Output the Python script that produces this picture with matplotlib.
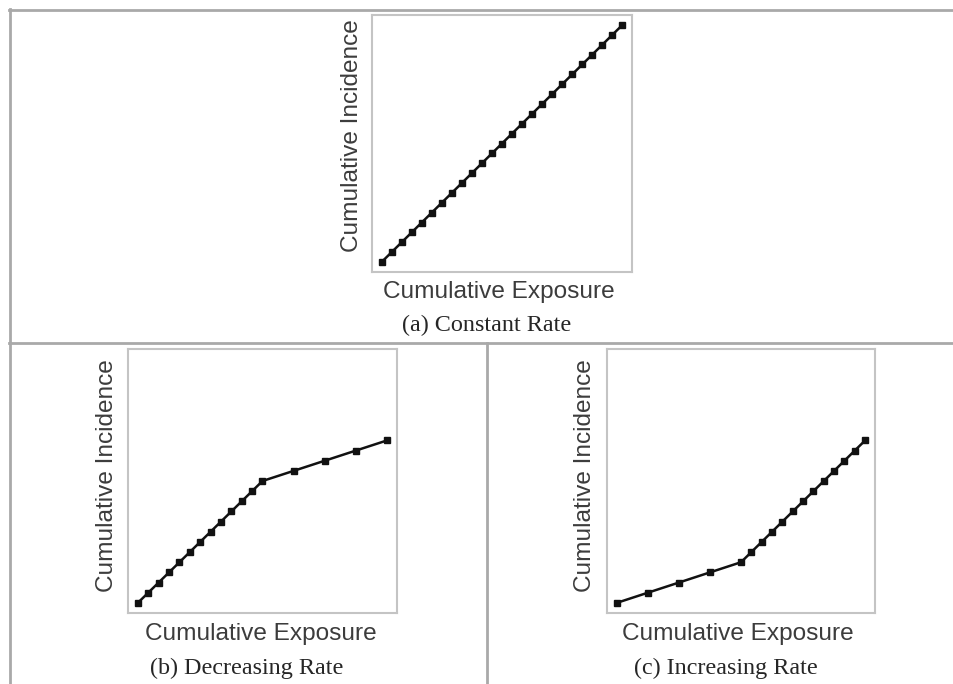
import matplotlib
matplotlib.use("Agg")
import matplotlib.pyplot as plt
from matplotlib.lines import Line2D

W, H = 954, 684

# (a) constant rate: one case per unit of exposure throughout
a_exposure = [0, 1, 2, 3, 4, 5, 6, 7, 8, 9, 10, 11, 12,
              13, 14, 15, 16, 17, 18, 19, 20, 21, 22, 23, 24]
a_incidence = [0, 1, 2, 3, 4, 5, 6, 7, 8, 9, 10, 11, 12,
               13, 14, 15, 16, 17, 18, 19, 20, 21, 22, 23, 24]

# (b) decreasing rate: steep early, then one case per three units
b_exposure = [0, 1, 2, 3, 4, 5, 6, 7, 8, 9, 10, 11, 12, 15, 18, 21, 24]
b_incidence = [0, 1, 2, 3, 4, 5, 6, 7, 8, 9, 10, 11, 12, 13, 14, 15, 16]

# (c) increasing rate: slow early, then one case per unit
c_exposure = [0, 3, 6, 9, 12, 13, 14, 15, 16, 17, 18, 19, 20, 21, 22, 23, 24]
c_incidence = [0, 1, 2, 3, 4, 5, 6, 7, 8, 9, 10, 11, 12, 13, 14, 15, 16]

captions = ["(a) Constant Rate", "(b) Decreasing Rate", "(c) Increasing Rate"]
xlab = "Cumulative Exposure"
ylab = "Cumulative Incidence"

SANS = "Liberation Sans"
SERIF = "Liberation Serif"
TXT = "#3c3c3c"
FRAME = "#c4c4c4"
RULE = "#a9a9a9"


def px_rect(left, top, right, bottom):
    return [left / W, 1 - bottom / H, (right - left) / W, (bottom - top) / H]


def fx(x):
    return x / W


def fy(y):
    return 1 - y / H


fig = plt.figure(figsize=(W / 100, H / 100), dpi=100)

panels = [
    # box (l, t, r, b) in px, data, label positions
    dict(box=(372, 15, 632, 272), x=a_exposure, y=a_incidence,
         xl=(499, 292), yl=(352, 136), cap=(487, 325), title=captions[0]),
    dict(box=(128, 349, 397, 613), x=b_exposure, y=b_incidence,
         xl=(261, 634), yl=(107, 476), cap=(247, 668), title=captions[1]),
    dict(box=(607, 349, 875, 613), x=c_exposure, y=c_incidence,
         xl=(738, 634), yl=(585, 476), cap=(726, 668), title=captions[2]),
]

for p in panels:
    ax = fig.add_axes(px_rect(*p["box"]))
    ax.plot(p["x"], p["y"], color="#111111", lw=1.8,
            marker="s", markersize=3.9, markerfacecolor="#111111",
            markeredgecolor="#111111")
    ax.set_xlim(-0.95, 24.95)
    ax.set_ylim(-1, 25)
    ax.set_xticks([])
    ax.set_yticks([])
    for s in ax.spines.values():
        s.set_color(FRAME)
        s.set_linewidth(1.5)

    fig.text(fx(p["xl"][0]), fy(p["xl"][1]), xlab, ha="center", va="center",
             fontsize=17.6, family=SANS, color=TXT)
    fig.text(fx(p["yl"][0]), fy(p["yl"][1]), ylab, ha="center", va="center",
             rotation=90, fontsize=17.6, family=SANS, color=TXT)
    fig.text(fx(p["cap"][0]), fy(p["cap"][1]), p["title"], ha="center",
             va="center", fontsize=17.4, family=SERIF, color="#262626")

# panel rules
rules = [
    ((9, 954), (10, 10)),
    ((10, 10), (9, 684)),
    ((9, 954), (343, 343)),
    ((487, 487), (343, 684)),
]
for xs, ys in rules:
    fig.add_artist(Line2D([fx(v) for v in xs], [fy(v) for v in ys],
                          transform=fig.transFigure, color=RULE, lw=2))

fig.savefig("out.png", dpi=100)
